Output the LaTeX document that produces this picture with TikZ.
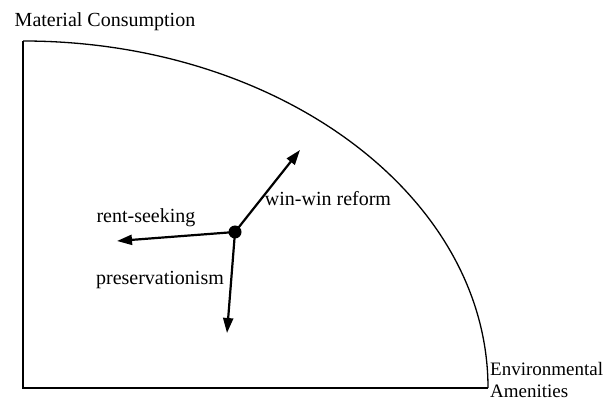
\documentclass[tikz,border=0pt]{standalone}
\usepackage{fontspec}
\setmainfont{Liberation Serif}
\usetikzlibrary{arrows.meta}
\begin{document}
\begin{tikzpicture}[x=1pt,y=1pt,
  lbl/.style={font=\fontsize{20}{23}\selectfont, inner sep=0pt},
  axis/.style={line width=1.3pt},
  move/.style={line width=2.2pt, -{Triangle[length=15pt,width=10pt]}}]
\useasboundingbox (0,0) rectangle (609,401);
\coordinate (O) at (23,13);
\coordinate (Ytop) at (23,360);
\coordinate (Xend) at (488,13);
\draw[axis] (Ytop) -- (O) -- (Xend);
\draw[axis] (Ytop) arc[start angle=90, end angle=0, x radius=465, y radius=347];
\node[circle, fill=black, minimum size=13pt, inner sep=0pt] (d) at (235,169) {};
\coordinate (tw) at (300,251);
\coordinate (tr) at (117,160);
\coordinate (tp) at (227,68);
\draw[move] (d.center) -- (tw);
\draw[move] (d.center) -- (tr);
\draw[move] (d.center) -- (tp);
\node[lbl] (lw) at (328,202) {win-win reform};
\node[lbl] (lr) at (146,183) {rent-seeking};
\node[lbl] (lp) at (160,121) {preservationism};
\node[lbl] (ly) at (105,379) {Material Consumption};
\node[lbl, font=\fontsize{19}{21}\selectfont, anchor=west, align=left] (lx) at (490,21) {Environmental\\Amenities};
\end{tikzpicture}
\end{document}
